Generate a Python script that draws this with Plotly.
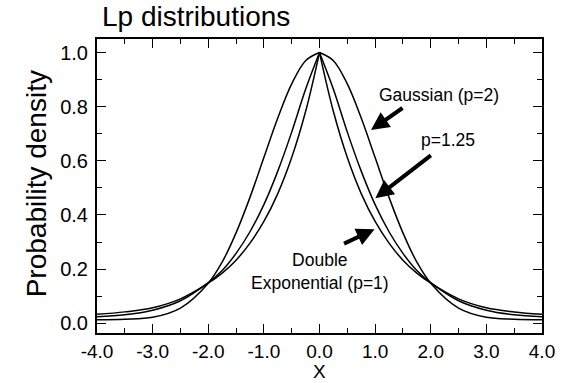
import plotly.graph_objects as go

# x positions
x_vals = [-4.0, -3.5, -3.0, -2.5, -2.0, -1.75, -1.5, -1.25, -1.0, -0.75, -0.5, -0.25,
          0.0, 0.25, 0.5, 0.75, 1.0, 1.25, 1.5, 1.75, 2.0, 2.5, 3.0, 3.5, 4.0]

gaussian = [0.013, 0.015, 0.022, 0.056, 0.148, 0.226, 0.334, 0.465, 0.612, 0.758, 0.884, 0.970,
            1.000, 0.970, 0.884, 0.758, 0.612, 0.465, 0.334, 0.226, 0.148, 0.056, 0.022, 0.015, 0.013]

p125 = [0.024, 0.031, 0.048, 0.083, 0.150, 0.195, 0.258, 0.338, 0.438, 0.562, 0.706, 0.864,
        1.000, 0.864, 0.706, 0.562, 0.438, 0.338, 0.258, 0.195, 0.150, 0.083, 0.048, 0.031, 0.024]

p1 = [0.033, 0.042, 0.057, 0.090, 0.148, 0.185, 0.233, 0.296, 0.376, 0.479, 0.612, 0.782,
      1.000, 0.782, 0.612, 0.479, 0.376, 0.296, 0.233, 0.185, 0.148, 0.090, 0.057, 0.042, 0.033]

x_tickvals = [-4, -3, -2, -1, 0, 1, 2, 3, 4]
x_ticktext = ["-4.0", "-3.0", "-2.0", "-1.0", "0.0", "1.0", "2.0", "3.0", "4.0"]
y_tickvals = [0, 0.2, 0.4, 0.6, 0.8, 1.0]
y_ticktext = ["0.0", "0.2", "0.4", "0.6", "0.8", "1.0"]

FONT = "Liberation Sans, Arial, Helvetica, sans-serif"

fig = go.Figure()
mid = x_vals.index(0.0)
for ys in (gaussian, p125, p1):
    # left and right halves so the cusp at 0 stays sharp
    for sl in (slice(0, mid + 1), slice(mid, None)):
        fig.add_trace(go.Scatter(x=x_vals[sl], y=ys[sl], mode="lines",
                                 line=dict(color="black", width=1.5, shape="spline", smoothing=1.0),
                                 showlegend=False, hoverinfo="skip"))

arrow_common = dict(showarrow=True, arrowhead=2, arrowsize=0.9, arrowwidth=4,
                    arrowcolor="black", axref="pixel", ayref="pixel", text="")
fig.add_annotation(x=0.926, y=0.714, ax=33, ay=-23, **arrow_common)
fig.add_annotation(x=1.004, y=0.462, ax=57, ay=-44, **arrow_common)
fig.add_annotation(x=0.99, y=0.347, ax=-32, ay=15, **arrow_common)

txt_font = dict(family=FONT, size=17.5, color="black")
fig.add_annotation(x=2.142, y=0.843, text="Gaussian (p=2)", showarrow=False, font=txt_font)
fig.add_annotation(x=2.311, y=0.677, text="p=1.25", showarrow=False, font=txt_font)
fig.add_annotation(x=0.0, y=0.193, text="Double<br>Exponential (p=1)", showarrow=False,
                   font=txt_font, align="center")

# axis titles and chart title
fig.add_annotation(xref="paper", yref="paper", x=-0.134, y=0.507, xanchor="center",
                   yanchor="middle", text="Probability density",
                   textangle=-90, showarrow=False, font=dict(family=FONT, size=28, color="black"))
fig.add_annotation(xref="paper", yref="paper", x=0.5, y=-0.131, xanchor="center",
                   yanchor="middle", text="X", borderpad=0,
                   showarrow=False, font=dict(family=FONT, size=19, color="black"))
fig.add_annotation(xref="paper", yref="paper", x=0.0075, y=1.0, yshift=5, xanchor="left",
                   yanchor="bottom", text="Lp distributions", showarrow=False,
                   font=dict(family=FONT, size=28, color="black"))

fig.update_layout(
    width=569, height=383,
    margin=dict(l=97, r=27, t=39, b=50),
    paper_bgcolor="white", plot_bgcolor="white",
    font=dict(family=FONT, size=20, color="black"),
)
fig.update_xaxes(range=[-4, 4], tickmode="array", tickvals=x_tickvals, ticktext=x_ticktext,
                 ticks="inside", ticklen=9, tickwidth=1, tickcolor="black",
                 showline=True, linewidth=2, linecolor="black", mirror="ticks",
                 showgrid=False, zeroline=False, ticklabelstandoff=0,
                 tickfont=dict(family=FONT, size=19, color="black"),
                 minor=dict(tickmode="linear", tick0=0, dtick=0.5, ticks="inside",
                            ticklen=5, tickwidth=1, tickcolor="black", showgrid=False))
fig.update_yaxes(range=[-0.036, 1.05], tickmode="array", tickvals=y_tickvals, ticktext=y_ticktext,
                 ticks="inside", ticklen=9, tickwidth=1, tickcolor="black",
                 showline=True, linewidth=2, linecolor="black", mirror="ticks",
                 showgrid=False, zeroline=False, ticklabelstandoff=3,
                 tickfont=dict(family=FONT, size=20, color="black"),
                 minor=dict(tickmode="linear", tick0=0, dtick=0.1, ticks="inside",
                            ticklen=5, tickwidth=1, tickcolor="black", showgrid=False))

fig.write_html("out.html")
